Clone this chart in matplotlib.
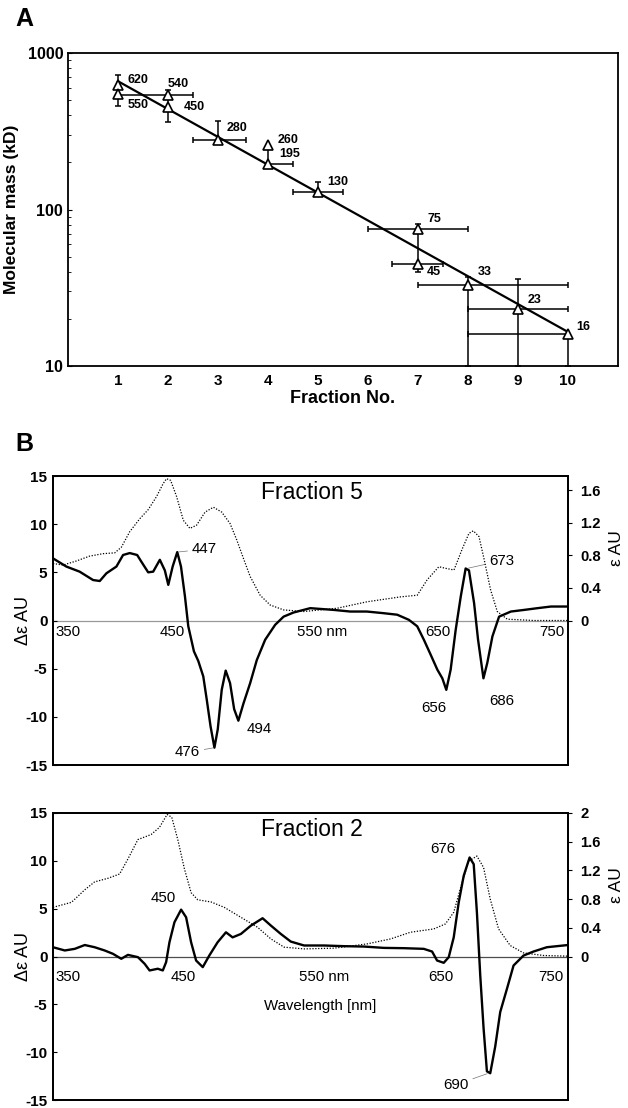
import numpy as np
import matplotlib.pyplot as plt
from matplotlib.ticker import FixedLocator, NullFormatter, FuncFormatter

plt.rcParams['font.family'] = ['Liberation Sans', 'DejaVu Sans']
plt.rcParams['axes.unicode_minus'] = False

# ---- panel A: gel filtration calibration ----
fraction = [1, 1, 2, 2, 3, 4, 4, 5, 7, 7, 8, 9, 10]
mass_kd = [620, 550, 540, 450, 280, 260, 195, 130, 75, 45, 33, 23, 16]
mass_err_lo = [0, 90, 0, 90, 10, 0, 10, 0, 0, 5, 23, 13, 6]
mass_err_hi = [100, 0, 40, 90, 90, 0, 65, 20, 6, 30, 4, 13, 0]
frac_err_lo = [0, 0, 1.0, 0, 0.5, 0, 0, 0.5, 1.0, 0.53, 1.0, 1.0, 2.0]
frac_err_hi = [0, 0, 0.5, 0, 0.55, 0, 0.5, 0.5, 1.0, 0.5, 2.0, 1.0, 0]
fit_fraction = [1, 10]
fit_mass = [660, 16.5]

# ---- panel B: CD (solid) and absorption (dotted) spectra ----
f5_cd_nm = [350, 360.4, 370.8, 381.3, 386.5, 391.7, 399.5, 404.7, 409.9, 415.7, 419, 424.3,
            428.2, 433.4, 437.3, 440, 443.4, 447, 449.9, 453, 455.6, 460, 463.4, 467.3, 470,
            473, 476, 478.6, 481.7, 484.8, 488.2, 491.4, 494.7, 498.7, 503.9, 509.1, 515.6,
            523.4, 530, 537.8, 550.8, 569, 582, 595, 608, 618.7, 627.8, 634.3, 639.5, 644.8,
            650, 653.9, 657, 660.4, 664.3, 668.3, 672.1, 674.7, 678.7, 681.8, 686, 689, 693,
            698.2, 707.4, 717.8, 728.2, 738.7, 752]
f5_cd = [6.45, 5.6, 5.07, 4.2, 4.1, 4.9, 5.6, 6.8, 7.0, 6.8, 6.1, 5.0,
         5.07, 6.3, 5.2, 3.7, 5.6, 7.1, 5.6, 2.5, -0.6, -3.2, -4.2, -5.8, -8.2,
         -11.0, -13.2, -11.3, -7.2, -5.2, -6.5, -9.2, -10.4, -8.6, -6.5, -4.1, -2.0,
         -0.45, 0.4, 0.83, 1.28, 1.1, 0.93, 0.93, 0.76, 0.6, 0.07, -0.6, -2.0, -3.55,
         -5.1, -6.0, -7.2, -5.1, -1.0, 2.5, 5.4, 5.2, 1.8, -2.0, -6.0, -4.4, -1.65,
         0.4, 0.93, 1.1, 1.28, 1.45, 1.45]
f5_abs_nm = [350, 357.8, 368.2, 378.6, 389.1, 398.2, 403.4, 409.9, 417.8, 424.3, 430.8, 436,
             438.6, 441.8, 446.5, 451.7, 456.9, 462.1, 468.7, 475.2, 481.7, 488.2, 493.4,
             498.7, 503.9, 511.7, 519.5, 530, 545.6, 571.7, 595.2, 621.3, 634.3, 642.1,
             651.2, 656.5, 663, 669.5, 674.7, 678.1, 682.5, 686.4, 691.6, 696.8, 704.6,
             725.5, 752]
f5_abs = [0.70, 0.68, 0.73, 0.79, 0.82, 0.83, 0.90, 1.09, 1.25, 1.36, 1.52, 1.68,
          1.74, 1.72, 1.52, 1.23, 1.13, 1.17, 1.33, 1.39, 1.33, 1.19, 0.99,
          0.76, 0.54, 0.31, 0.19, 0.13, 0.11, 0.15, 0.23, 0.29, 0.31, 0.50,
          0.66, 0.64, 0.62, 0.88, 1.07, 1.10, 1.03, 0.76, 0.375, 0.11, 0.016,
          0.0, 0.0]

f2_cd_nm = [350, 359.2, 367, 374.8, 382.5, 390.3, 396.8, 403.3, 408.5, 416.3, 421.5, 425.4,
            431.8, 435.7, 438.3, 440.9, 444.8, 450, 453.9, 457.8, 461.7, 466.9, 472, 478.5,
            485, 490.2, 496.7, 504.5, 513.6, 520.1, 527.8, 535.6, 546, 561.6, 577.1, 592.7,
            608.3, 623.8, 639.4, 645.9, 649.8, 655, 658.9, 662.8, 666.7, 670.6, 675.2,
            678.4, 680.9, 683.5, 686.1, 688.7, 691.3, 695.2, 699.1, 704.3, 709.5, 717.3,
            725.1, 735.5, 752]
f2_cd = [0.97, 0.63, 0.8, 1.2, 0.97, 0.63, 0.28, -0.24, 0.17, -0.07, -0.76, -1.46,
         -1.28, -1.46, -0.59, 1.49, 3.58, 4.9, 4.1, 1.49, -0.42, -1.11, 0.1, 1.49,
         2.53, 2.0, 2.36, 3.23, 4.0, 3.23, 2.36, 1.56, 1.15, 1.15, 1.08, 1.04,
         0.9, 0.87, 0.8, 0.52, -0.42, -0.66, -0.07, 2.0, 5.66, 8.44, 10.35,
         9.65, 4.6, -1.98, -7.5, -12.0, -12.2, -9.4, -5.8, -3.4, -0.94, 0.1,
         0.52, 0.97, 1.2]
f2_abs_nm = [350, 364.4, 374.8, 382.5, 392.9, 402, 408.5, 416.3, 426.6, 433.1, 439.1, 442.7,
             447.4, 452.6, 457.8, 463, 473.4, 483.7, 496.7, 509.7, 520.1, 530.4, 546,
             569.4, 595.3, 613.5, 629, 647.2, 656.3, 662.8, 669.3, 674.5, 680.9, 686.1,
             691.3, 697.8, 706.9, 717.3, 732.9, 752]
f2_abs = [0.685, 0.755, 0.93, 1.04, 1.09, 1.15, 1.36, 1.63, 1.70, 1.80, 1.98, 1.94,
          1.63, 1.22, 0.89, 0.79, 0.76, 0.685, 0.546, 0.407, 0.245, 0.13, 0.106,
          0.116, 0.176, 0.245, 0.338, 0.384, 0.454, 0.616, 1.03, 1.33, 1.40, 1.24,
          0.80, 0.384, 0.153, 0.05, 0.014, 0.005]

fig = plt.figure(figsize=(6.28, 11.08), dpi=100)

# ================= panel A =================
axA = fig.add_axes([68 / 628, 1 - 366 / 1108, 550 / 628, 313 / 1108])
axA.set_yscale('log')
axA.errorbar(fraction, mass_kd, yerr=[mass_err_lo, mass_err_hi],
             xerr=[frac_err_lo, frac_err_hi], fmt='none', ecolor='black',
             elinewidth=1.1, capsize=2.5, capthick=1.1, zorder=2)
axA.plot(fit_fraction, fit_mass, color='black', lw=1.6, zorder=3)
axA.plot(fraction, mass_kd, linestyle='none', marker='^', ms=7, mfc='white',
         mec='black', mew=1.2, zorder=4)

label_offsets = [(7, 4), (7, -8), (0, 8), (11, 0), (6.5, 8.5), (7, 3), (8, 7),
                 (6.5, 7), (6.5, 7), (6.5, -6), (7, 9), (7, 7), (6, 5)]
for fx, m, off in zip(fraction, mass_kd, label_offsets):
    axA.annotate(str(m), xy=(fx, m), xytext=off, textcoords='offset points',
                 ha='left', va='center', fontsize=9, fontweight='bold')

axA.set_xlim(0, 11)
axA.set_ylim(10, 1000)
axA.set_xticks(range(1, 11))
axA.tick_params(axis='x', length=0, pad=6, labelsize=11)
axA.tick_params(axis='y', which='major', length=3, direction='in', labelsize=11.5)
axA.tick_params(axis='y', which='minor', length=2, direction='in')
axA.yaxis.set_major_formatter(FuncFormatter(lambda v, p: '%d' % v))
axA.yaxis.set_minor_formatter(NullFormatter())
for lab in axA.get_xticklabels() + axA.get_yticklabels():
    lab.set_fontweight('bold')
axA.set_xlabel('Fraction No.', fontsize=13, fontweight='bold', labelpad=1)
axA.set_ylabel('Molecular mass (kD)', fontsize=12.5, fontweight='bold', labelpad=6)
for s in axA.spines.values():
    s.set_linewidth(1.3)

fig.text(15 / 628, 1 - 19 / 1108, 'A', fontsize=18, fontweight='bold', va='center')
fig.text(15 / 628, 1 - 444 / 1108, 'B', fontsize=18, fontweight='bold', va='center')


# ================= panel B =================
def spectrum_panel(rect, cd_nm, cd, abs_nm, ab, right_max, right_ticks, title,
                   tick_text, peaks, zero_color):
    ax = fig.add_axes(rect)
    ax.axhline(0, color=zero_color, lw=0.9, zorder=1)
    ax.plot(cd_nm, cd, color='black', lw=1.7, zorder=3)
    ax.set_xlim(350, 752)
    ax.set_ylim(-15, 15)
    ax.set_xticks([])
    ax.set_yticks([-15, -10, -5, 0, 5, 10, 15])
    ax.tick_params(axis='y', length=3, direction='in', labelsize=11, pad=4)
    for lab in ax.get_yticklabels():
        lab.set_fontweight('bold')
    ax.set_ylabel('Δε AU', fontsize=13)
    ax.yaxis.set_label_coords(-0.04, 0.5)
    for s in ax.spines.values():
        s.set_linewidth(1.3)

    ax2 = ax.twinx()
    ax2.plot(abs_nm, ab, color='black', lw=0.9, linestyle=(0, (1, 1.3)), zorder=2)
    ax2.set_ylim(-right_max, right_max)
    ax2.yaxis.set_major_locator(FixedLocator(right_ticks))
    ax2.yaxis.set_major_formatter(FuncFormatter(lambda v, p: '%g' % v))
    ax2.tick_params(axis='y', length=3, direction='out', labelsize=10.7, pad=6)
    for lab in ax2.get_yticklabels():
        lab.set_fontweight('bold')
    for s in ax2.spines.values():
        s.set_linewidth(1.3)
    ax2.text(1.095, 0.75, 'ε AU', transform=ax2.transAxes, rotation=90,
             ha='center', va='center', fontsize=12.5)

    ax.text(552, 13.3, title, ha='center', va='center', fontsize=16.5)
    for x, y, s, ha in tick_text:
        ax.text(x, y, s, ha=ha, va='center', fontsize=10.8)
    for px, py, tx, ty, s, leader in peaks:
        if leader:
            ax.annotate(s, xy=(px, py), xytext=(tx, ty), ha='center', va='center',
                        fontsize=10.8,
                        arrowprops=dict(arrowstyle='-', lw=0.5, color='0.45',
                                        shrinkA=1, shrinkB=1))
        else:
            ax.text(tx, ty, s, ha='center', va='center', fontsize=10.8)
    return ax


top_ticks = [(352, -1.2, '350', 'left'), (443, -1.2, '450', 'center'),
             (540.4, -1.2, '550 nm', 'left'), (650.5, -1.2, '650', 'center'),
             (739.2, -1.2, '750', 'center')]
top_peaks = [(447, 7.1, 468, 7.4, '447', True), (476, -13.2, 455, -13.7, '476', True),
             (494.7, -10.4, 511, -11.3, '494', False), (656, -7.2, 647.4, -9.1, '656', False),
             (686, -6.0, 700, -8.4, '686', False), (673, 5.4, 700, 6.2, '673', True)]
spectrum_panel([53 / 628, 1 - 765 / 1108, 515 / 628, 289 / 1108],
               f5_cd_nm, f5_cd, f5_abs_nm, f5_abs, 15 / 8.46,
               [0, 0.4, 0.8, 1.2, 1.6], 'Fraction 5', top_ticks, top_peaks, '0.6')

bot_ticks = [(352, -2.15, '350', 'left'), (451.8, -2.15, '450', 'center'),
             (542.1, -2.15, '550 nm', 'left'), (652.9, -2.15, '650', 'center'),
             (738.5, -2.15, '750', 'center'), (558.2, -5.2, 'Wavelength [nm]', 'center')]
bot_peaks = [(450, 4.9, 436.2, 6.1, '450', False), (676, 10.35, 654.2, 11.2, '676', False),
             (690, -12.2, 664.6, -13.4, '690', True)]
spectrum_panel([53 / 628, 1 - 1100 / 1108, 515 / 628, 287 / 1108],
               f2_cd_nm, f2_cd, f2_abs_nm, f2_abs, 2.0,
               [0, 0.4, 0.8, 1.2, 1.6, 2.0], 'Fraction 2', bot_ticks, bot_peaks, '0.3')

fig.savefig('out.png', dpi=100)
